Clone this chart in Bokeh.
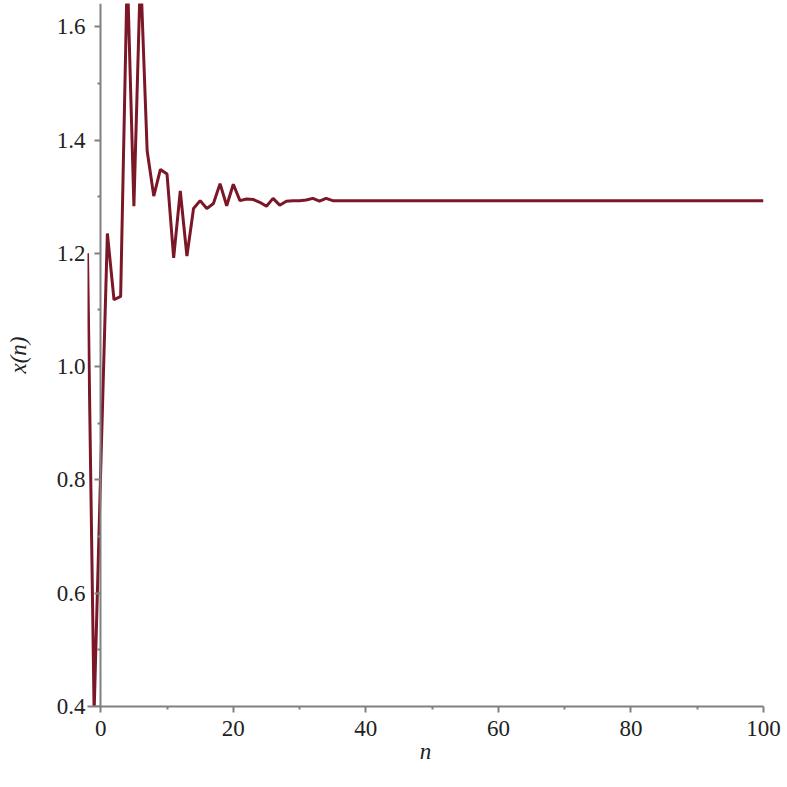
from bokeh.plotting import figure
from bokeh.models import Range1d, FixedTicker, LinearAxis
from bokeh.embed import file_html
from bokeh.resources import INLINE

# ---- data ----
n_values = list(range(-2, 101))
x_values = [
    1.200, 0.390, 0.820, 1.235, 1.118, 1.124, 1.700, 1.283, 1.700, 1.381,
    1.301, 1.348, 1.340, 1.192, 1.310, 1.195, 1.279, 1.293, 1.279, 1.288,
    1.323, 1.284, 1.322, 1.293, 1.296, 1.295, 1.290, 1.283, 1.297, 1.285,
    1.292, 1.293, 1.293, 1.294, 1.297, 1.292, 1.297, 1.293, 1.293, 1.293,
    1.293, 1.293, 1.293, 1.293, 1.293, 1.293, 1.293, 1.293, 1.293, 1.293,
    1.293, 1.293, 1.293, 1.293, 1.293, 1.293, 1.293, 1.293, 1.293, 1.293,
    1.293, 1.293, 1.293, 1.293, 1.293, 1.293, 1.293, 1.293, 1.293, 1.293,
    1.293, 1.293, 1.293, 1.293, 1.293, 1.293, 1.293, 1.293, 1.293, 1.293,
    1.293, 1.293, 1.293, 1.293, 1.293, 1.293, 1.293, 1.293, 1.293, 1.293,
    1.293, 1.293, 1.293, 1.293, 1.293, 1.293, 1.293, 1.293, 1.293, 1.293,
    1.293, 1.293, 1.293,
]
x_ticks = [0, 20, 40, 60, 80, 100]
x_minor = [10, 30, 50, 70, 90]
y_ticks = [0.4, 0.6, 0.8, 1.0, 1.2, 1.4, 1.6]
y_tick_labels = ["0.4", "0.6", "0.8", "1.0", "1.2", "1.4", "1.6"]
y_minor = [0.5, 0.7, 0.9, 1.1, 1.3, 1.5]

p = figure(width=787, height=787,
           x_range=Range1d(-2, 100), y_range=Range1d(0.4, 1.641),
           output_backend="svg", toolbar_location=None,
           min_border_left=87, min_border_right=24,
           min_border_top=3, min_border_bottom=81)
p.outline_line_color = None
p.xgrid.grid_line_color = None
p.ygrid.grid_line_color = None
p.background_fill_color = "white"
p.border_fill_color = "white"

p.line(n_values, x_values, line_color="#7b1727", line_width=3)

font = "Liberation Serif"
axis_gray = "#808080"
text_col = "#222222"

# x axis (bottom)
xa = p.xaxis[0]
xa.ticker = FixedTicker(ticks=x_ticks, minor_ticks=x_minor)
xa.axis_line_color = axis_gray
xa.axis_line_width = 2
xa.major_tick_line_color = axis_gray
xa.minor_tick_line_color = axis_gray
xa.major_tick_line_width = 2
xa.minor_tick_line_width = 2
xa.major_tick_out = 6
xa.major_tick_in = 0
xa.minor_tick_out = 3
xa.minor_tick_in = 0
xa.major_label_text_font = font
xa.major_label_text_font_size = "23px"
xa.major_label_text_color = text_col
xa.major_label_standoff = 8
xa.axis_label = "n"
xa.axis_label_text_font = font
xa.axis_label_text_font_size = "23px"
xa.axis_label_text_font_style = "italic"
xa.axis_label_text_color = text_col
xa.axis_label_standoff = 0

# y axis labels (left edge, no line/ticks)
ya = p.yaxis[0]
ya.ticker = FixedTicker(ticks=y_ticks, minor_ticks=y_minor)
ya.major_label_overrides = {t: s for t, s in zip(y_ticks, y_tick_labels)}
ya.axis_line_color = None
ya.major_tick_line_color = None
ya.minor_tick_line_color = None
ya.major_tick_out = 0
ya.major_tick_in = 0
ya.minor_tick_out = 0
ya.minor_tick_in = 0
ya.major_label_standoff = 2
ya.major_label_text_font = font
ya.major_label_text_font_size = "23px"
ya.major_label_text_color = text_col
ya.axis_label = "x(n)"
ya.axis_label_text_font = font
ya.axis_label_text_font_size = "23px"
ya.axis_label_text_font_style = "italic"
ya.axis_label_text_color = text_col
ya.axis_label_standoff = 23

# y axis line with ticks, crossing at n = 0
yline = LinearAxis(ticker=FixedTicker(ticks=y_ticks, minor_ticks=y_minor),
                   fixed_location=0)
yline.major_label_text_font_size = "0px"
yline.major_label_text_color = None
yline.axis_line_color = axis_gray
yline.axis_line_width = 2
yline.major_tick_line_color = axis_gray
yline.minor_tick_line_color = axis_gray
yline.major_tick_line_width = 2
yline.minor_tick_line_width = 2
yline.major_tick_in = 6
yline.major_tick_out = 0
yline.minor_tick_in = 3
yline.minor_tick_out = 0
p.add_layout(yline, "right")

open("out.html", "w").write(file_html(p, INLINE))
